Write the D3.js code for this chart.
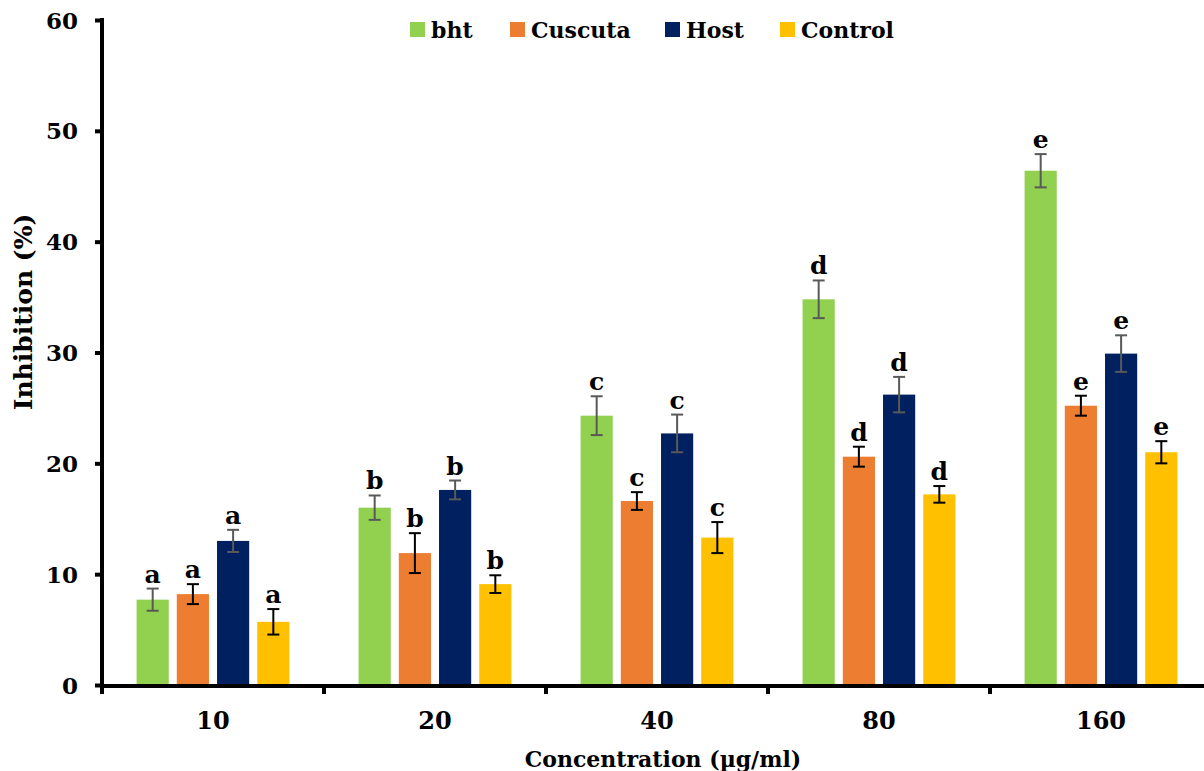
<!DOCTYPE html>
<html>
<head>
<meta charset="utf-8">
<script src="https://cdn.jsdelivr.net/npm/d3@7"></script>
<style>
  body { margin: 0; background: #fff; }
  text { font-family: "DejaVu Serif", serif; font-weight: bold; fill: #000; }
</style>
</head>
<body>
<svg width="1204" height="771"></svg>
<script>
const concentrations = ["10", "20", "40", "80", "160"];
const seriesNames = ["bht", "Cuscuta", "Host", "Control"];
const seriesColors = ["#92D050", "#ED7D31", "#002060", "#FFC000"];
const errColors = ["#595959", "#000000", "#595959", "#000000"];
// values per series, in concentration order
const bhtVals = [7.7, 16.0, 24.3, 34.8, 46.4];
const cuscutaVals = [8.2, 11.9, 16.6, 20.6, 25.2];
const hostVals = [13.0, 17.6, 22.7, 26.2, 29.9];
const controlVals = [5.7, 9.1, 13.3, 17.2, 21.0];
const bhtErr = [1.0, 1.1, 1.75, 1.7, 1.5];
const cuscutaErr = [0.9, 1.8, 0.8, 0.9, 0.9];
const hostErr = [1.0, 0.85, 1.7, 1.6, 1.65];
const controlErr = [1.15, 0.8, 1.4, 0.75, 1.0];
const letters = ["a", "b", "c", "d", "e"];
const yTicks = [0, 10, 20, 30, 40, 50, 60];

const vals = [bhtVals, cuscutaVals, hostVals, controlVals];
const errs = [bhtErr, cuscutaErr, hostErr, controlErr];

const data = [];
concentrations.forEach((c, i) => {
  seriesNames.forEach((s, j) => {
    data.push({conc: c, series: s, j: j, val: vals[j][i], err: errs[j][i], letter: letters[i]});
  });
});

const svg = d3.select("svg");

const x0 = d3.scaleBand()
  .domain(concentrations)
  .range([102, 1212]);

const x1 = d3.scaleBand()
  .domain(seriesNames)
  .range([0, x0.bandwidth()])
  .paddingInner(0.2)
  .paddingOuter(0.86);

const y = d3.scaleLinear()
  .domain([0, 60])
  .range([685, 20]);

// bars
svg.append("g")
  .selectAll("rect")
  .data(data)
  .enter()
  .append("rect")
  .attr("x", d => x0(d.conc) + x1(d.series))
  .attr("y", d => y(d.val))
  .attr("width", x1.bandwidth())
  .attr("height", d => y(0) - y(d.val))
  .attr("fill", d => seriesColors[d.j]);

// error bars
const eb = svg.append("g")
  .selectAll("g")
  .data(data)
  .enter()
  .append("g")
  .attr("stroke", d => errColors[d.j])
  .attr("stroke-width", 2);

const cx = d => x0(d.conc) + x1(d.series) + x1.bandwidth() / 2;

eb.append("line")
  .attr("x1", cx).attr("x2", cx)
  .attr("y1", d => y(d.val + d.err))
  .attr("y2", d => y(d.val - d.err));
eb.append("line")
  .attr("x1", d => cx(d) - 6).attr("x2", d => cx(d) + 6)
  .attr("y1", d => y(d.val + d.err))
  .attr("y2", d => y(d.val + d.err));
eb.append("line")
  .attr("x1", d => cx(d) - 6).attr("x2", d => cx(d) + 6)
  .attr("y1", d => y(d.val - d.err))
  .attr("y2", d => y(d.val - d.err));

// letters
svg.append("g")
  .selectAll("text")
  .data(data)
  .enter()
  .append("text")
  .attr("x", cx)
  .attr("y", d => y(d.val + d.err) - 6)
  .attr("text-anchor", "middle")
  .style("font-size", "25px")
  .text(d => d.letter);

// y axis
const yAxis = svg.append("g")
  .attr("transform", "translate(102,0)")
  .call(d3.axisLeft(y).tickValues(yTicks).tickSize(7).tickPadding(17));
yAxis.select(".domain").attr("stroke-width", 4).attr("d", "M0,18V688");
yAxis.selectAll(".tick line").attr("stroke-width", 4);
yAxis.selectAll(".tick text").style("font-size", "23px").attr("dy", "0.35em");

// x axis
const xAxis = svg.append("g")
  .attr("transform", "translate(0,686)");
xAxis.append("line")
  .attr("x1", 100).attr("x2", 1212)
  .attr("stroke", "#000").attr("stroke-width", 4);
xAxis.selectAll(".sep")
  .data(concentrations)
  .enter()
  .append("line")
  .attr("x1", d => x0(d)).attr("x2", d => x0(d))
  .attr("y1", 0).attr("y2", 8)
  .attr("stroke", "#000").attr("stroke-width", 4);
xAxis.selectAll(".lab")
  .data(concentrations)
  .enter()
  .append("text")
  .attr("x", d => x0(d) + x0.bandwidth() / 2)
  .attr("y", 43)
  .attr("text-anchor", "middle")
  .style("font-size", "24px")
  .text(d => d);

// axis titles
svg.append("text")
  .attr("x", 663)
  .attr("y", 767)
  .attr("text-anchor", "middle")
  .style("font-size", "22px")
  .text("Concentration (µg/ml)");

svg.append("text")
  .attr("transform", "translate(32,312) rotate(-90)")
  .attr("text-anchor", "middle")
  .style("font-size", "25px")
  .text("Inhibition (%)");

// legend
const legendX = [410, 510, 665, 780];
const lg = svg.append("g")
  .selectAll("g")
  .data(seriesNames)
  .enter()
  .append("g")
  .attr("transform", (d, i) => `translate(${legendX[i]},22)`);
lg.append("rect")
  .attr("width", 15).attr("height", 15)
  .attr("fill", (d, i) => seriesColors[i]);
lg.append("text")
  .attr("x", 21)
  .attr("y", 16)
  .style("font-size", "22px")
  .text(d => d);
</script>
</body>
</html>
